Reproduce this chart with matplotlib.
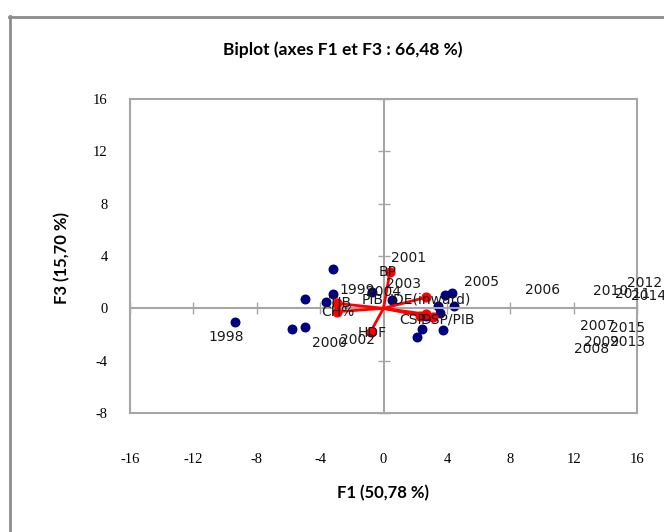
import matplotlib
matplotlib.use("Agg")
import matplotlib.pyplot as plt
from matplotlib.lines import Line2D

plt.rcParams["axes.unicode_minus"] = False  # plain hyphen like the original

# observations (years) : point coordinates on F1 / F3
years = ["1998", "1999", "2000", "2001", "2002", "2003", "2004", "2005", "2006",
         "2007", "2008", "2009", "2010", "2011", "2012", "2013", "2014", "2015"]
obs_f1 = [-9.38, -3.17, -4.94, -5.78, -4.96, -3.21, -3.65, -0.71, 0.52,
          2.10, 2.41, 3.78, 4.31, 3.88, 3.46, 4.45, 3.57, 2.68]
obs_f3 = [-1.07, 3.00, 0.69, -1.56, -1.45, 1.09, 0.46, 1.27, 0.63,
          -2.22, -1.58, -1.66, 1.15, 1.02, 0.18, 0.20, -0.36, -0.60]
# label positions of the years (as placed by the software)
lab_f1 = [-9.94, -1.67, -3.38, 1.61, -1.61, 1.29, 0.03, 6.16, 10.01,
          13.48, 13.16, 13.79, 14.36, 15.75, 16.50, 15.41, 16.70, 15.41]
lab_f3 = [-2.19, 1.40, -2.65, 3.85, -2.42, 1.86, 1.25, 2.01, 1.40,
          -1.35, -3.11, -2.58, 1.32, 1.09, 1.93, -2.58, 0.94, -1.51]

# variables : vector end points and label positions
variables = ["BP", "HDF", "CH%", "TIB", "PIB", "IDE(inward)", "CSP", "DSP/PIB"]
var_f1 = [0.41, -0.81, -2.95, -2.95, 2.30, 2.68, 3.14, 2.70]
var_f3 = [2.80, -1.79, -0.26, 0.38, -0.55, 0.84, -0.64, -0.45]
vlab_f1 = [0.28, -0.73, -2.87, -2.75, -0.66, 2.94, 1.86, 4.07]
vlab_f3 = [2.78, -1.89, -0.28, 0.41, 0.63, 0.71, -0.89, -0.82]

ticks = [-16, -12, -8, -4, 0, 4, 8, 12, 16]
yticks = [-8, -4, 0, 4, 8, 12, 16]

GRAY = "#a6a6a6"
W, H = 664, 532

fig = plt.figure(figsize=(W / 100, H / 100), dpi=100)

# outer chart border (cut by the image on the right and bottom)
fig.add_artist(Line2D([9.5 / W, 9.5 / W], [0, 1 - 16 / H], color="#8c8c8c", lw=2))
fig.add_artist(Line2D([9 / W, 1], [1 - 16.5 / H, 1 - 16.5 / H], color="#8c8c8c", lw=2))

rect = [130 / W, 1 - 413 / H, 507 / W, 314 / H]

# frame + tick labels
ax0 = fig.add_axes(rect)
ax0.set_xlim(-16, 16)
ax0.set_ylim(-8, 16)
ax0.set_xticks(ticks)
ax0.set_yticks(yticks)
ax0.tick_params(length=0, labelsize=10.5, colors="black")
ax0.tick_params(axis="x", pad=29)
ax0.tick_params(axis="y", pad=16)
for lab in ax0.get_xticklabels() + ax0.get_yticklabels():
    lab.set_family("Liberation Serif")
for s in ax0.spines.values():
    s.set_color(GRAY)
    s.set_linewidth(1.5)

# data axes with axis lines through zero
ax = fig.add_axes(rect, sharex=ax0, sharey=ax0)
ax.patch.set_alpha(0)
ax.spines["left"].set_position("zero")
ax.spines["bottom"].set_position("zero")
ax.spines["top"].set_visible(False)
ax.spines["right"].set_visible(False)
for s in ("left", "bottom"):
    ax.spines[s].set_color(GRAY)
    ax.spines[s].set_linewidth(1.5)
ax.tick_params(direction="inout", length=8, width=1, color=GRAY,
               labelbottom=False, labelleft=False)

# variable vectors
for x, y in zip(var_f1, var_f3):
    ax.plot([0, x], [0, y], color="red", lw=2, zorder=3)
ax.scatter(var_f1, var_f3, s=40, color="red", zorder=4)

# observations
ax.scatter(obs_f1, obs_f3, s=38, color="#00007f", zorder=2)

for t, x, y in zip(years, lab_f1, lab_f3):
    ax.text(x, y, t, ha="center", va="center", fontsize=10,
            color="#1a1a1a", clip_on=False, zorder=5)
for t, x, y in zip(variables, vlab_f1, vlab_f3):
    ax.text(x, y, t, ha="center", va="center", fontsize=10,
            color="#1a1a1a", clip_on=False, zorder=5)

fig.text(343 / W, 1 - 50 / H, "Biplot (axes F1 et F3 : 66,48 %)",
         ha="center", va="center", fontsize=12.5, family="Lato", weight="bold")
fig.text(383 / W, 1 - 493 / H, "F1 (50,78 %)",
         ha="center", va="center", fontsize=12, family="Lato", weight="bold")
fig.text(62 / W, 1 - 258 / H, "F3 (15,70 %)", rotation=90,
         ha="center", va="center", fontsize=12, family="Lato", weight="bold")

fig.savefig("out.png", dpi=100)
